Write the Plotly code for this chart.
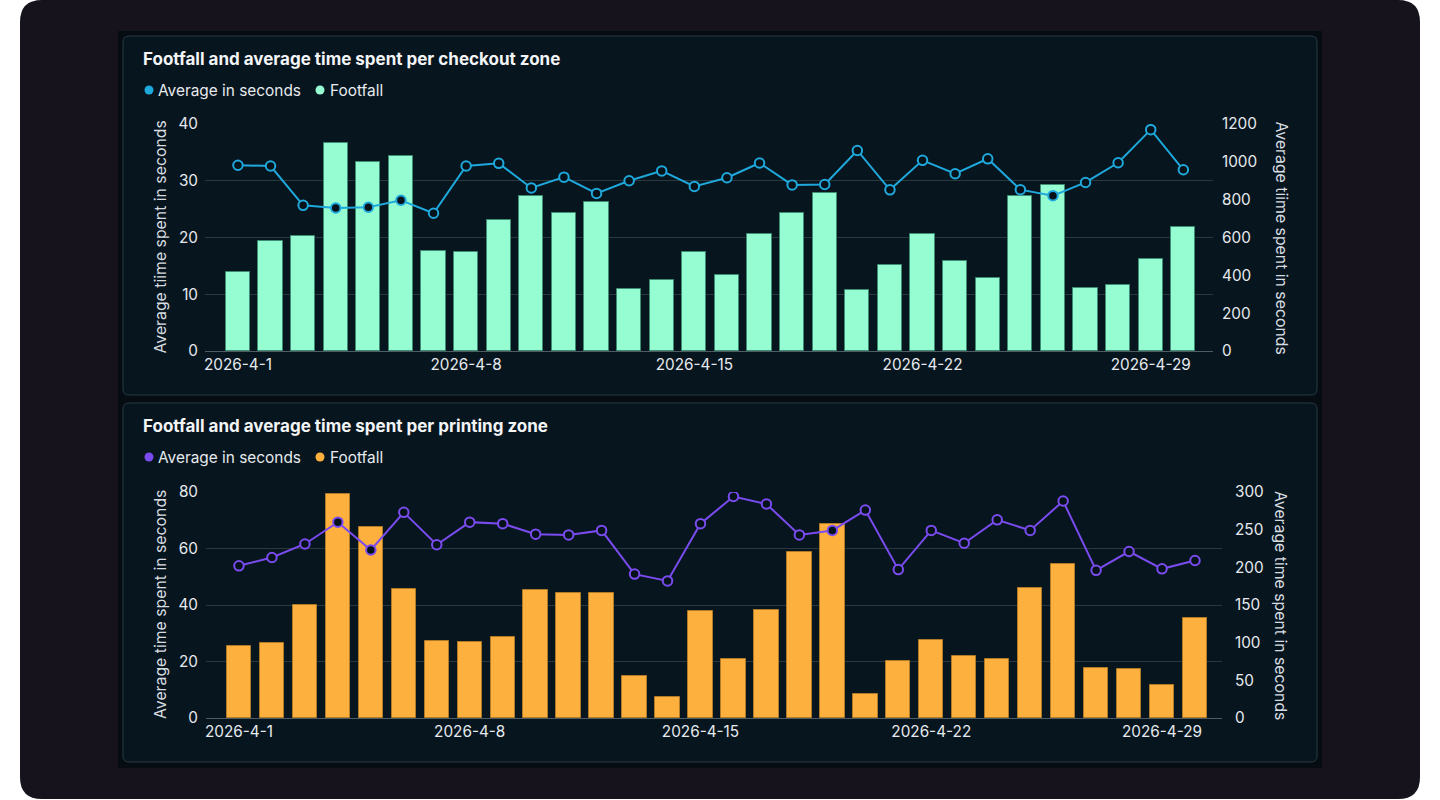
import plotly.graph_objects as go

# ---------------- data ----------------
dates = [f"2026-04-{d:02d}" for d in range(1, 31)]
tick_vals = ["2026-04-01", "2026-04-08", "2026-04-15", "2026-04-22", "2026-04-29"]
tick_text = ["2026-4-1", "2026-4-8", "2026-4-15", "2026-4-22", "2026-4-29"]

checkout_footfall = [13.9, 19.3, 20.3, 36.7, 33.3, 34.4, 17.6, 17.4, 23.0, 27.4,
                     24.3, 26.2, 11.0, 12.5, 17.4, 13.4, 20.7, 24.3, 27.9, 10.7,
                     15.1, 20.6, 15.8, 12.8, 27.4, 29.3, 11.1, 11.6, 16.3, 21.9]
checkout_avg = [982, 978, 770, 756, 760, 797, 728, 978, 992, 862,
                919, 833, 900, 952, 870, 916, 994, 878, 880, 1060,
                852, 1008, 937, 1016, 853, 821, 891, 995, 1170, 958]

printing_footfall = [25.4, 26.4, 40.1, 79.4, 67.7, 45.8, 27.3, 26.8, 28.7, 45.4,
                     44.1, 44.1, 14.7, 7.5, 38.0, 20.8, 38.4, 58.8, 68.6, 8.6,
                     20.1, 27.5, 22.0, 20.8, 45.9, 54.6, 17.6, 17.3, 11.8, 35.3]
printing_avg = [202, 213, 231, 260, 223, 273, 230, 260, 258, 244,
                243, 249, 191, 182, 258, 294, 284, 243, 249, 276,
                197, 249, 232, 263, 249, 288, 196, 221, 198, 209]

titles = ["Footfall and average time spent per checkout zone",
          "Footfall and average time spent per printing zone"]
axis_titles = ["Average tiime spent in seconds", "Average time spent in seconds"]
legend_names = ["Average in seconds", "Footfall"]

# ---------------- style ----------------
W, H = 1440, 800
FONT = "Inter"
TXT = "#e6eaee"
GRID = "#2a3840"
AXLINE = "#4e5c64"
PANEL = "#07151e"
MINT = "#96fdd3"
CYAN = "#1fa8dc"
ORANGE = "#fdb03e"
PURPLE = "#7a4cf0"
DAY = 86400000


def px(x):
    return x / W


def py(y):
    return 1 - y / H


def rrect(x0, y0, x1, y1, r):
    X0, X1 = px(x0), px(x1)
    rx, ry = r / W, r / H
    Y0, Y1 = py(y0), py(y1)  # Y0 top (larger), Y1 bottom
    return (f"M{X0+rx},{Y0} L{X1-rx},{Y0} Q{X1},{Y0} {X1},{Y0-ry} "
            f"L{X1},{Y1+ry} Q{X1},{Y1} {X1-rx},{Y1} L{X0+rx},{Y1} "
            f"Q{X0},{Y1} {X0},{Y1+ry} L{X0},{Y0-ry} Q{X0},{Y0} {X0+rx},{Y0} Z")


fig = go.Figure()

bar_w = 0.74 * DAY

# top chart
fig.add_trace(go.Bar(x=dates, y=checkout_footfall, name=legend_names[1], width=bar_w,
                     marker=dict(color=MINT, line=dict(color="#3f8c74", width=1)),
                     xaxis="x", yaxis="y", showlegend=False))
fig.add_trace(go.Scatter(x=dates, y=checkout_avg, name=legend_names[0], mode="lines+markers",
                         line=dict(color=CYAN, width=2),
                         marker=dict(symbol="circle", size=9.5, color="#06121a",
                                     line=dict(color=CYAN, width=2)),
                         xaxis="x", yaxis="y2", showlegend=False))
# bottom chart
fig.add_trace(go.Bar(x=dates, y=printing_footfall, name=legend_names[1], width=bar_w,
                     marker=dict(color=ORANGE, line=dict(color="#b07a26", width=1)),
                     xaxis="x2", yaxis="y3", showlegend=False))
fig.add_trace(go.Scatter(x=dates, y=printing_avg, name=legend_names[0], mode="lines+markers",
                         line=dict(color=PURPLE, width=2),
                         marker=dict(symbol="circle", size=9.5, color="#06121a",
                                     line=dict(color=PURPLE, width=2)),
                         xaxis="x2", yaxis="y4", showlegend=False))

tickfont = dict(family=FONT, size=15.3, color=TXT)

xcommon = dict(type="date", tickvals=tick_vals, ticktext=tick_text, showgrid=False,
               showline=True, linecolor=AXLINE, linewidth=1, ticks="", tickfont=tickfont,
               zeroline=False, fixedrange=True, automargin=False)
ycommon = dict(showgrid=True, gridcolor=GRID, gridwidth=1, zeroline=False, ticks="",
               tickfont=tickfont, showline=False, fixedrange=True, automargin=False)

fig.update_layout(
    width=W, height=H,
    margin=dict(l=0, r=0, t=0, b=0, pad=0, autoexpand=False),
    paper_bgcolor="white",
    plot_bgcolor="rgba(0,0,0,0)",
    font=dict(family=FONT, color=TXT),
    showlegend=False,
    bargap=0,
    xaxis=dict(xcommon, domain=[px(205), px(1213)], anchor="y",
               range=["2026-03-30 23:45", "2026-04-30 21:50"]),
    yaxis=dict(ycommon, domain=[py(351), py(124)], range=[0, 40], dtick=10, anchor="x",
               ticklabelstandoff=6),
    yaxis2=dict(ycommon, overlaying="y", side="right", range=[0, 1200], dtick=200,
                showgrid=False, anchor="x", ticklabelstandoff=8),
    xaxis2=dict(xcommon, domain=[px(206), px(1222)], anchor="y3",
                range=["2026-03-31 00:00", "2026-04-30 19:40"]),
    yaxis3=dict(ycommon, domain=[py(718), py(492)], range=[0, 80], dtick=20, anchor="x2",
                ticklabelstandoff=7),
    yaxis4=dict(ycommon, overlaying="y3", side="right", range=[0, 300], dtick=50,
                showgrid=False, anchor="x2", ticklabelstandoff=12),
)

shapes = []
# outer rounded card
shapes.append(dict(type="path", path=rrect(20, 0, 1420, 799, 22), xref="paper", yref="paper",
                   fillcolor="#16131c", line=dict(width=0), layer="below"))
# inner dark area
shapes.append(dict(type="rect", x0=px(118), x1=px(1322), y0=py(768), y1=py(31), xref="paper",
                   yref="paper", fillcolor="#050c12", line=dict(width=0), layer="below"))
# panels
for (t, b) in [(36, 395), (403, 762)]:
    shapes.append(dict(type="path", path=rrect(123, t, 1317, b, 6), xref="paper", yref="paper",
                       fillcolor=PANEL, line=dict(color="#2b3a43", width=1), layer="below"))

annotations = []
legend_specs = [(59, 90, CYAN, MINT), (426, 457, PURPLE, ORANGE)]
for i, (ty, ly, c1, c2) in enumerate(legend_specs):
    annotations.append(dict(text=f"<b>{titles[i]}</b>", x=px(141), y=py(ty), xref="paper",
                            yref="paper", xanchor="left", yanchor="middle", showarrow=False,
                            font=dict(family=FONT, size=17, color="#f2f4f6")))
    for cx, col, name, tx in [(149, c1, legend_names[0], 156), (320, c2, legend_names[1], 328)]:
        shapes.append(dict(type="circle", xref="paper", yref="paper",
                           x0=px(cx - 4.5), x1=px(cx + 4.5), y0=py(ly + 4.5), y1=py(ly - 4.5),
                           fillcolor=col, line=dict(width=0)))
        annotations.append(dict(text=name, x=px(tx), y=py(ly), xref="paper", yref="paper",
                                xanchor="left", yanchor="middle", showarrow=False,
                                font=dict(family=FONT, size=15.4, color=TXT)))

for (top, bot, lx, rx, txt) in [(124, 351, 160, 1281, axis_titles[0]),
                                (492, 718, 160, 1281, axis_titles[1])]:
    mid = (top + bot) / 2
    annotations.append(dict(text=txt, x=px(lx), y=py(mid), xref="paper", yref="paper",
                            textangle=-90, showarrow=False, xanchor="center", yanchor="middle",
                            font=dict(family=FONT, size=15.8, color="#d6dce0")))
    annotations.append(dict(text=txt, x=px(rx), y=py(mid), xref="paper", yref="paper",
                            textangle=90, showarrow=False, xanchor="center", yanchor="middle",
                            font=dict(family=FONT, size=15.8, color="#d6dce0")))

fig.update_layout(shapes=shapes, annotations=annotations)

fig.write_html("out.html",
               post_script="document.body.style.margin='0';document.body.style.overflow='hidden';")
